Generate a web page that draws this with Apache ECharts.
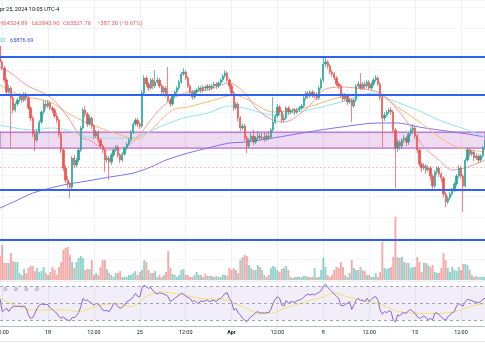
<!DOCTYPE html>
<html><head><meta charset="utf-8">
<script src="https://cdn.jsdelivr.net/npm/echarts@6/dist/echarts.min.js"></script>
<style>html,body{margin:0;padding:0;background:#fff}#c{width:485px;height:360px}</style>
</head><body><div id="c"></div>
<script>
// ---- time axis ----
const startTime = '2024-03-14T08:00:00Z';
const stepHours = 4;
const tickTimes = ['2024-03-14 12:00','2024-03-18 00:00','2024-03-21 12:00','2024-03-25 00:00','2024-03-28 12:00','2024-04-01 00:00','2024-04-04 12:00','2024-04-08 00:00','2024-04-11 12:00','2024-04-15 00:00','2024-04-18 12:00'];
const tickLabels = ['12:00','18','12:00','25','12:00','Apr','12:00','8','12:00','15','12:00'];

// ---- 4h candles ----
const opens = [74310,72790,72210,71070,69920,70300,69350,68210,68780,69160,
69540,69160,69730,69350,68400,67440,65920,65340,66110,67060,
68020,68780,68590,68870,68400,68210,67630,67250,65920,64390,
62670,61530,61150,60860,63630,62960,63440,64390,66490,68210,
67820,66870,67440,66680,65730,66110,65340,64770,64390,63440,
63630,63250,63910,64390,64680,63910,63440,64010,64580,64960,
65340,66110,66870,67250,66870,66680,69830,71260,70690,70300,
71070,70500,70880,71070,70500,69920,70300,69730,69160,68780,
69540,69920,70300,70880,71640,71830,71260,70500,69920,69450,
69920,70110,70300,70110,70400,70300,70500,70300,70500,70690,
70500,70780,71070,71450,71740,71070,70500,69830,68400,68780,
67440,66490,66680,65540,64770,65340,65730,65150,65540,65730,
65540,65630,65440,65730,65630,66300,67060,67630,68490,68020,
67250,67440,68400,68020,68110,68210,68020,68210,68400,68590,
69350,69830,69540,69920,69540,69730,69350,70300,71070,72590,
72790,72400,71830,71640,71260,70690,70500,69640,69260,69540,
68970,69160,68590,69160,70500,70690,70300,70690,70500,70880,
70300,70690,71070,71260,70690,69450,67440,67730,68020,68210,
68020,66300,64580,65150,64770,65340,65540,65150,65920,66300,
66490,65730,64390,63050,62670,62860,62480,62670,61910,60960,
62290,62670,62100,61720,60190,59430,59810,60190,60570,61150,
61910,62670,61910,60960,63440,64390,64010,64200,63630,63820,
63440,63820,64580];
const closes = [72790,72210,71070,69920,70300,69350,68210,68780,69160,69540,
69160,69730,69350,68400,67440,65920,65340,66110,67060,68020,
68780,68590,68870,68400,68210,67630,67250,65920,64390,62670,
61530,61150,60860,63630,62960,63440,64390,66490,68210,67820,
66870,67440,66680,65730,66110,65340,64770,64390,63440,63630,
63250,63910,64390,64680,63910,63440,64010,64580,64960,65340,
66110,66870,67250,66870,66680,69830,71260,70690,70300,71070,
70500,70880,71070,70500,69920,70300,69730,69160,68780,69540,
69920,70300,70880,71640,71830,71260,70500,69920,69450,69920,
70110,70300,70110,70400,70300,70500,70300,70500,70690,70500,
70780,71070,71450,71740,71070,70500,69830,68400,68780,67440,
66490,66680,65540,64770,65340,65730,65150,65540,65730,65540,
65630,65440,65730,65630,66300,67060,67630,68490,68020,67250,
67440,68400,68020,68110,68210,68020,68210,68400,68590,69350,
69830,69540,69920,69540,69730,69350,70300,71070,72590,72790,
72400,71830,71640,71260,70690,70500,69640,69260,69540,68970,
69160,68590,69160,70500,70690,70300,70690,70500,70880,70300,
70690,71070,71260,70690,69450,67440,67730,68020,68210,68020,
66300,64580,65150,64770,65340,65540,65150,65920,66300,66490,
65730,64390,63050,62670,62860,62480,62670,61910,60960,62290,
62670,62100,61720,60190,59430,59810,60190,60570,61150,61910,
62670,61910,60960,63440,64390,64010,64200,63630,63820,63440,
63820,64580,65150];
const lows = [72590,72020,70880,69640,69730,64580,67920,68020,68590,68970,
68870,68970,69060,68210,67160,65630,64300,65150,65920,66870,
67820,68300,68400,68210,67920,67440,66970,65630,64100,62390,
61240,60760,59810,60570,62670,62770,63250,64200,66300,67540,
66580,66680,66390,65440,65540,65060,64490,64100,62290,63150,
61530,62960,63720,64200,63630,63150,63250,63820,64390,64770,
65150,65920,66680,66580,66390,66490,69640,70400,70020,70110,
70210,70300,70690,70300,69640,69730,69450,68970,68490,68590,
69350,69730,70110,70690,71450,71070,70300,69640,69160,69260,
69730,69920,69830,69920,70020,70110,70020,70110,70300,70210,
70300,70590,70880,71260,70880,70210,69540,68110,68210,67160,
66200,66300,65250,64100,64580,65150,64870,64960,65340,65250,
65340,65150,65250,65340,65440,66110,66870,67440,67730,66970,
67060,67250,67730,67820,67920,67730,67820,68020,68210,68400,
69160,69260,69350,69350,69350,69160,69160,70110,70880,72310,
72120,71640,71350,71070,70500,70210,69350,68970,69060,68680,
68780,67060,68400,68970,70300,70110,70110,70210,70300,70110,
70110,70500,70880,70500,69160,64680,67160,67540,67820,67730,
66010,60760,64200,64390,64490,65060,64770,64870,65730,66010,
65440,64100,62770,62290,62480,62100,62290,61530,60670,60760,
62000,61810,61340,59910,58950,59240,59620,60000,60380,60960,
61720,61620,58480,60760,63250,63720,63820,63340,63440,63150,
63250,63630,64390];
const highs = [74880,72980,72400,71260,70590,70500,69540,68970,69350,69830,
69730,69920,69920,69540,68590,67630,66300,66390,67250,68210,
69160,69060,69160,69060,68590,68400,67920,67440,66110,64580,
62960,61910,61340,63820,63910,63630,64580,66680,68400,68590,
68020,67730,67630,66870,66300,66300,65540,64960,64580,63910,
63820,64100,64580,64870,64870,64100,64200,64770,65150,65540,
66300,67060,67440,67440,67060,70110,71550,71450,70880,71260,
71260,72020,71350,71260,70690,70500,70500,72310,69350,69730,
70110,70500,71070,71830,72210,72020,71450,70690,70110,70110,
70300,70500,70500,70590,70590,70690,70690,70690,70880,70880,
70970,71260,71640,72020,71930,71260,70690,70020,68970,68970,
67630,66970,66870,65730,65540,66010,66300,65730,66200,66010,
66010,66110,66010,66200,66490,69450,67820,68780,68680,68210,
67730,68590,68590,68300,68400,68400,68400,68590,68780,69540,
70020,70020,70110,70110,69920,69920,70500,71260,73170,73170,
72980,72590,72020,71830,71450,70880,70690,69830,69830,69730,
69350,69350,69350,70690,70970,71740,70880,70970,71070,71070,
70880,71260,71550,71450,70880,69640,68020,68210,68400,68490,
68210,66490,65440,65340,65540,65820,65730,66110,66490,66870,
66680,65920,64580,63250,63150,63050,62960,62860,62100,62480,
62860,62860,62290,61910,60380,60000,60380,60760,61340,62100,
62960,62860,62100,63630,64680,64580,64390,64390,64100,64010,
64010,64770,65340];
const volumes = [2400,3500,1700,1700,1700,2700,1900,1800,1800,700,
500,1100,700,1200,1400,1400,900,1200,800,900,
1300,700,500,800,1300,1000,500,1300,1800,3000,
3200,3300,2500,1800,1200,1800,2200,2400,2200,1000,
1100,1100,2000,500,700,500,1300,2000,2000,1100,
700,500,300,700,700,900,300,300,300,500,
500,700,900,500,800,1000,2000,1800,1000,700,
700,900,300,500,300,500,800,2900,1200,600,
500,300,500,1000,1100,500,500,300,300,500,
800,500,500,300,600,400,400,400,300,400,
300,300,500,500,400,1200,1000,1200,1000,700,
2000,2300,2500,2400,1500,1200,1000,1000,1500,1300,
1000,500,300,500,1200,1400,1300,1000,800,1100,
1200,1400,1000,300,200,300,300,300,300,400,
400,300,300,300,1200,300,300,1000,2200,1300,
500,300,500,1000,1300,1200,1800,1300,500,300,
700,2000,1200,1000,1000,1300,1000,900,500,500,
300,300,700,300,800,3800,1200,1100,1200,1300,
2300,6300,2300,2200,2300,1800,1700,1700,1200,1300,
1300,2300,1800,800,1700,1700,1500,1300,1500,800,
700,700,1200,2700,2000,1200,800,1300,1000,900,
1300,1000,1600,1600,1500,1000,500,300,400,300,
300,300,300];

// ---- moving averages (read at sparse candle indices) ----
const maFast = [[0,72310],[5,71740],[12,70590],[23,69450],[31,67540],[37,65630],[41,65340],[46,64680],[50,64390],[58,64680],[63,65630],[68,66970],[72,68020],[78,69160],[86,69920],[95,70110],[105,70780],[112,69830],[118,68210],[125,67250],[130,67060],[141,68490],[148,70110],[156,70400],[163,70300],[174,69830],[182,68210],[189,66300],[194,64680],[201,63440],[207,62480],[214,62770],[222,63440]];
const maMid = [[0,70590],[9,69640],[23,68970],[31,67920],[40,66970],[46,66490],[55,65820],[63,65440],[68,66110],[79,68210],[86,68490],[98,69160],[107,69640],[112,69350],[125,68020],[141,68490],[156,69450],[173,69640],[182,68490],[194,66780],[201,65630],[209,64680],[222,64200]];
const maSlow = [[0,66780],[15,66300],[23,66490],[31,66300],[40,65630],[50,65540],[60,65540],[65,65820],[73,66580],[84,67440],[95,67920],[105,68590],[112,68400],[125,67730],[141,68210],[156,68970],[171,69830],[179,69160],[191,68210],[201,67250],[214,66300],[222,65630]];
const maLong = [[0,58860],[8,59620],[15,60290],[23,60760],[31,61150],[37,61340],[50,61810],[61,62200],[69,62770],[76,63440],[86,64100],[95,64580],[105,65060],[112,65150],[125,65540],[141,66110],[156,66580],[173,66970],[182,66970],[192,66580],[201,66300],[214,65920],[222,65630]];

// ---- drawings ----
const levelLines = [73260, 69640, 60570, 55800];
const zoneTop = 66110, zoneBottom = 64580;
const dottedLevel = 62770;

// ---- RSI ----
const rsi = [55,40,42,44,40,44,46,46.5,46,46.5,
46,46.5,44,36,32,33,38,44,47.6,49,
48,48.5,48,44,42.5,40,38,34,32,34,
31,30,29,33,33,35,39,46,55.5,53,
53.5,51.6,49.6,47.6,49.6,49,45.7,41.8,41,41,
40,44,49.6,49,45.7,44,45,47.6,51.6,53,
54.5,57.5,61.4,58,57.5,67.3,71.2,69.2,67.3,68.4,
64.5,62,60.6,62,61.4,60.6,59.4,57.5,51.6,53.5,
55.5,57.5,59.4,61.4,60.6,58,56.7,55.5,51.6,53,
50.4,49.6,53,51.6,53,53.5,51.6,53,53.5,51.6,
54.5,55.5,58,61.4,62,55.5,51.6,41.8,43.7,38.6,
36,32,30,28,32,34,36,38.6,40,38,
38.6,38,39,38.6,42.5,49.6,54.5,57.5,55.5,47.6,
46.5,53,49.6,51.6,51.6,50.8,53,53.5,54.5,56.7,
59.4,60.6,59.4,60.6,59.4,61.4,62.5,64.5,70,72.3,
68.4,66,63.3,60.6,58,55.5,47.6,46.5,48.5,49.6,
51.6,42.5,47.6,53.5,55.5,53,53.5,51.6,55.5,51.6,
54.5,56.7,57.5,53.5,41.8,37,40,38.6,41,40,
30,27.6,36,35,38,38.6,38,41,42.5,40,
38,34,32,33,35,33,30,32,30,38,
38.6,36,34,31,30,34,36,38.6,40,46.5,
49.6,47.6,46.5,51.6,54.5,53.5,53,51.6,51,50.4,
51.6,54.5,55.5];
const rsiMA = [[0,55.5],[15,41.8],[23,41.8],[31,41.8],[35,39.8],[46,47.6],[53,49.6],[60,45.7],[67,57.5],[73,63.3],[84,59.4],[92,55.5],[104,53.5],[110,47],[119,37.8],[124,37.8],[130,43.7],[140,51.6],[148,57.5],[153,62],[159,57.5],[165,53.5],[171,50.8],[177,45.7],[183,39.8],[192,37.8],[201,37.8],[208,39.8],[215,45.7],[222,49.6]];
const rsiLevels = [70, 50, 30];

// ---- build ----
const categories = [];
const t0 = Date.parse(startTime);
for (let i = 0; i < closes.length; i++) {
  const d = new Date(t0 + i * stepHours * 3600000);
  categories.push(d.toISOString().slice(0, 16).replace('T', ' '));
}
const candleData = opens.map((o, i) => [o, closes[i], lows[i], highs[i]]);
const UP = '#26a69a', DOWN = '#ef5350';
const volData = volumes.map((v, i) => ({
  value: v,
  itemStyle: { color: closes[i] >= opens[i] ? 'rgba(38,166,154,0.5)' : 'rgba(239,83,80,0.5)' }
}));
const isTick = (idx, val) => tickTimes.indexOf(val) >= 0;
const fmt = (val) => {
  const k = tickTimes.indexOf(val);
  const s = k >= 0 ? tickLabels[k] : '';
  return s === 'Apr' ? '{b|Apr}' : s;
};
const FONT = 'Roboto, "DejaVu Sans", sans-serif';
const noLabel = { show: false };

const chart = echarts.init(document.getElementById('c'), null, { renderer: 'canvas', width: 485, height: 360 });
chart.setOption({
  animation: false,
  backgroundColor: '#ffffff',
  textStyle: { fontFamily: FONT },
  grid: [
    { left: 0, right: 0, top: 0, height: 280, outerBoundsMode: 'none', containLabel: false },
    { left: 0, right: 0, top: 215, height: 65, outerBoundsMode: 'none', containLabel: false },
    { left: 0, right: 0, top: 282, height: 44, outerBoundsMode: 'none', containLabel: false }
  ],
  xAxis: [
    { type: 'category', gridIndex: 0, data: categories, boundaryGap: false,
      axisLine: { show: false }, axisTick: { show: false }, axisLabel: { show: false },
      splitLine: { show: true, interval: isTick, lineStyle: { color: '#eef1f6', width: 1 } } },
    { type: 'category', gridIndex: 1, data: categories, boundaryGap: false, show: false },
    { type: 'category', gridIndex: 2, data: categories, boundaryGap: false,
      axisLine: { show: true, lineStyle: { color: '#b8bcc5', width: 1 } }, axisTick: { show: false },
      axisLabel: { show: true, interval: isTick, formatter: fmt, color: '#131722', fontSize: 5.4, margin: 4,
        hideOverlap: false, fontFamily: FONT, rich: { b: { fontWeight: 'bold', fontSize: 5.4, color: '#131722', fontFamily: FONT } } },
      splitLine: { show: true, interval: isTick, lineStyle: { color: '#eef1f6', width: 1 } } }
  ],
  yAxis: [
    { type: 'value', gridIndex: 0, min: 52000, max: 78700, interval: 2000,
      axisLabel: { show: false }, axisLine: { show: false }, axisTick: { show: false },
      splitLine: { show: true, lineStyle: { color: '#f3f5f9', width: 1 } } },
    { type: 'value', gridIndex: 1, min: 0, max: 6500, show: false },
    { type: 'value', gridIndex: 2, min: 23, max: 74.8,
      axisLabel: { show: false }, axisLine: { show: false }, axisTick: { show: false }, splitLine: { show: false } }
  ],
  series: [
    { type: 'line', xAxisIndex: 0, yAxisIndex: 0, data: [], silent: true, z: 1,
      markArea: { silent: true, itemStyle: { color: 'rgba(156,39,176,0.17)', borderColor: 'rgba(171,71,188,0.8)', borderWidth: 1.2 },
        label: noLabel, data: [[{ yAxis: zoneTop }, { yAxis: zoneBottom }]] },
      markLine: { silent: true, symbol: 'none', label: noLabel,
        lineStyle: { color: 'rgba(239,83,80,0.35)', width: 1, type: [2, 2] }, data: [{ yAxis: dottedLevel }] } },
    { type: 'bar', xAxisIndex: 1, yAxisIndex: 1, data: volData, barWidth: 1.9, silent: true, z: 1 },
    { type: 'line', xAxisIndex: 0, yAxisIndex: 0, data: maLong, smooth: 0.3, symbol: 'none', silent: true, z: 2,
      lineStyle: { color: '#7d74f0', width: 1 } },
    { type: 'line', xAxisIndex: 0, yAxisIndex: 0, data: maSlow, smooth: 0.3, symbol: 'none', silent: true, z: 2,
      lineStyle: { color: '#8fe3ee', width: 1 } },
    { type: 'line', xAxisIndex: 0, yAxisIndex: 0, data: maMid, smooth: 0.3, symbol: 'none', silent: true, z: 2,
      lineStyle: { color: '#fbb677', width: 1 } },
    { type: 'line', xAxisIndex: 0, yAxisIndex: 0, data: maFast, smooth: 0.3, symbol: 'none', silent: true, z: 2,
      lineStyle: { color: '#f49a98', width: 1 } },
    { type: 'candlestick', xAxisIndex: 0, yAxisIndex: 0, data: candleData, barWidth: 1.8, silent: true, z: 3,
      itemStyle: { color: UP, color0: DOWN, borderColor: UP, borderColor0: DOWN, borderWidth: 0.7 } },
    { type: 'line', xAxisIndex: 0, yAxisIndex: 0, data: [], silent: true, z: 4,
      markLine: { silent: true, symbol: 'none', label: noLabel,
        lineStyle: { color: '#2f62f2', width: 1.8, type: 'solid' }, data: levelLines.map(v => ({ yAxis: v })) } },
    { type: 'line', xAxisIndex: 2, yAxisIndex: 2, data: [], silent: true, z: 1,
      markArea: { silent: true, itemStyle: { color: 'rgba(126,87,194,0.1)' }, label: noLabel,
        data: [[{ yAxis: rsiLevels[0] }, { yAxis: rsiLevels[2] }]] },
      markLine: { silent: true, symbol: 'none', label: noLabel,
        lineStyle: { color: '#a3a6af', width: 1, type: [3, 3] }, data: rsiLevels.map(v => ({ yAxis: v })) } },
    { type: 'line', xAxisIndex: 2, yAxisIndex: 2, data: rsiMA, smooth: 0.3, symbol: 'none', silent: true, z: 2,
      lineStyle: { color: '#f3e06a', width: 1 } },
    { type: 'line', xAxisIndex: 2, yAxisIndex: 2, data: rsi, symbol: 'none', silent: true, z: 3,
      lineStyle: { color: '#8a63d2', width: 1 } }
  ],
  graphic: [
    { type: 'line', z: 50, shape: { x1: 0, y1: 281.5, x2: 485, y2: 281.5 }, style: { stroke: '#eceef2', lineWidth: 1 } },
    { type: 'line', z: 50, shape: { x1: 0, y1: 341.5, x2: 485, y2: 341.5 }, style: { stroke: '#e6e8ec', lineWidth: 1 } },
    { type: 'text', z: 100, x: -4, y: 9.5, style: { text: 'Apr 25, 2024 10:05 UTC-4', fill: '#131722', font: '5.6px ' + FONT, verticalAlign: 'middle' } },
    { type: 'text', z: 100, x: -1, y: 23.5, style: { text: 'H64324.89', fill: '#f0575a', font: '5.8px ' + FONT, verticalAlign: 'middle' } },
    { type: 'text', z: 100, x: 32, y: 23.5, style: { text: 'L62843.90', fill: '#f0575a', font: '5.8px ' + FONT, verticalAlign: 'middle' } },
    { type: 'text', z: 100, x: 63, y: 23.5, style: { text: 'C63521.76', fill: '#f0575a', font: '5.8px ' + FONT, verticalAlign: 'middle' } },
    { type: 'text', z: 100, x: 97, y: 23.5, style: { text: '−387.30 (−0.61%)', fill: '#f0575a', font: '5.8px ' + FONT, verticalAlign: 'middle' } },
    { type: 'text', z: 100, x: -1, y: 41, style: { text: '00', fill: '#4fd3e3', font: '5.6px ' + FONT, verticalAlign: 'middle' } },
    { type: 'text', z: 100, x: 10, y: 41, style: { text: '65876.69', fill: '#3a4ef0', font: '5.6px ' + FONT, verticalAlign: 'middle' } },
    { type: 'text', z: 100, x: 3, y: 289.5, style: { text: '⊘', fill: '#80848e', font: '5.5px "DejaVu Sans"', verticalAlign: 'middle' } },
    { type: 'text', z: 100, x: 13.5, y: 289.5, style: { text: '⊘', fill: '#80848e', font: '5.5px "DejaVu Sans"', verticalAlign: 'middle' } },
    { type: 'text', z: 100, x: 24, y: 289.5, style: { text: '⊘', fill: '#80848e', font: '5.5px "DejaVu Sans"', verticalAlign: 'middle' } },
    { type: 'text', z: 100, x: 34.5, y: 289.5, style: { text: '⊘', fill: '#80848e', font: '5.5px "DejaVu Sans"', verticalAlign: 'middle' } }
  ]
});
</script>
</body></html>
